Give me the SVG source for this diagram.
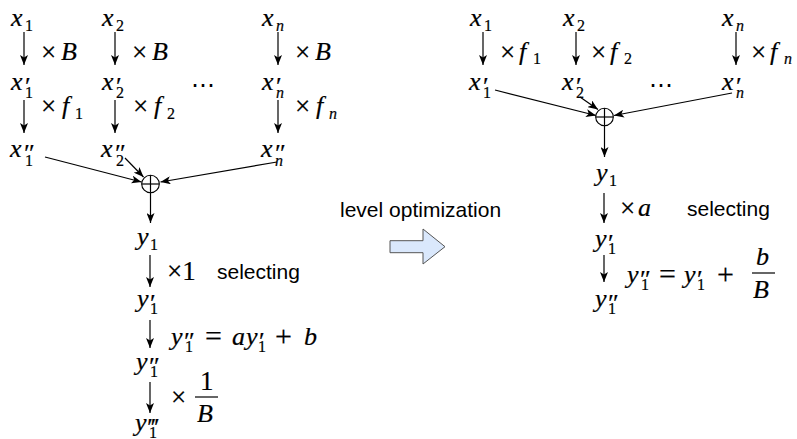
<svg xmlns="http://www.w3.org/2000/svg" width="797" height="439" viewBox="0 0 797 439">
  <style>
    .v { font-family: "Liberation Serif", "DejaVu Serif", "Times New Roman", serif; font-style: italic; font-size: 26px; fill: #000; stroke: #000; stroke-width: 0.2; }
    .r { font-style: normal; font-size: 27px; }
    .s { font-style: normal; font-size: 16px; }
    .si { font-style: italic; font-size: 16px; }
    .p { font-style: normal; font-size: 26px; }
    .op { font-style: normal; font-size: 30px; }
    .dots { font-family: "DejaVu Serif", serif; font-size: 24px; fill: #000; }
    .t { font-family: "Liberation Sans", Arial, sans-serif; font-size: 21px; fill: #000; }
    .ln { stroke: #000; stroke-width: 1.2; fill: none; }
    .arr { stroke: #000; stroke-width: 1.2; fill: none; marker-end: url(#head); }
    .sum { stroke: #000; stroke-width: 1.1; fill: #fff; }
    .big { fill: #dae8fc; stroke: #555; stroke-width: 1; }
  </style>
  <defs>
    <marker id="head" markerUnits="userSpaceOnUse" markerWidth="10" markerHeight="8" viewBox="0 0 10 8" refX="10" refY="4" orient="auto">
      <path d="M0,0 L10,4 L0,8 L2.5,4 z" fill="#000"/>
    </marker>
  </defs>

  <rect width="797" height="439" fill="#fff"/>

  <!-- connectors -->
  <g id="connectors">
    <!-- left: scaling chains -->
    <line class="arr" x1="24" y1="32" x2="24" y2="65"/>
    <line class="arr" x1="24" y1="100" x2="24" y2="133"/>
    <line class="arr" x1="115" y1="32" x2="115" y2="65"/>
    <line class="arr" x1="115" y1="100" x2="115" y2="133"/>
    <line class="arr" x1="278" y1="32" x2="278" y2="65"/>
    <line class="arr" x1="278" y1="100" x2="278" y2="133"/>
    <!-- left: into the sum -->
    <line class="arr" x1="45" y1="157" x2="141.5" y2="182"/>
    <line class="arr" x1="125" y1="158" x2="143.5" y2="177"/>
    <line class="arr" x1="277" y1="162" x2="160.5" y2="182"/>
    <!-- left: output chain -->
    <line class="arr" x1="150.5" y1="193" x2="150.5" y2="223"/>
    <line class="arr" x1="150" y1="255" x2="150" y2="287"/>
    <line class="arr" x1="150" y1="320" x2="150" y2="348"/>
    <line class="arr" x1="150" y1="382" x2="150" y2="413"/>

    <!-- right: scaling -->
    <line class="arr" x1="483" y1="32" x2="483" y2="65"/>
    <line class="arr" x1="576" y1="32" x2="576" y2="65"/>
    <line class="arr" x1="736" y1="32" x2="736" y2="65"/>
    <!-- right: into the sum -->
    <line class="arr" x1="495" y1="90" x2="596" y2="115.5"/>
    <line class="arr" x1="580" y1="97" x2="598" y2="109.5"/>
    <line class="arr" x1="732" y1="93" x2="614" y2="115.5"/>
    <!-- right: output chain -->
    <line class="arr" x1="604.5" y1="126" x2="604.5" y2="157"/>
    <line class="arr" x1="604" y1="193" x2="604" y2="223"/>
    <line class="arr" x1="604" y1="255" x2="604" y2="282"/>
  </g>

  <!-- adders -->
  <g id="sum-left">
    <circle class="sum" cx="150.5" cy="184" r="8.8"/>
    <line class="ln" x1="141.7" y1="184" x2="159.3" y2="184"/>
    <line class="ln" x1="150.5" y1="175.2" x2="150.5" y2="192.8"/>
  </g>
  <g id="sum-right">
    <circle class="sum" cx="604.5" cy="117" r="8.8"/>
    <line class="ln" x1="595.7" y1="117" x2="613.3" y2="117"/>
    <line class="ln" x1="604.5" y1="108.2" x2="604.5" y2="125.8"/>
  </g>

  <!-- left inputs -->
  <g id="L-x1"><text class="v" x="11" y="26">x<tspan class="s" x="25" y="31">1</tspan></text></g>
  <g id="L-x2"><text class="v" x="102" y="26">x<tspan class="s" x="116" y="31">2</tspan></text></g>
  <g id="L-xn"><text class="v" x="262" y="26">x<tspan class="si" x="276" y="31">n</tspan></text></g>
  <g id="L-x1p"><text class="v" x="11" y="90">x<tspan class="p" x="25" y="95">′</tspan><tspan class="s" x="25" y="98">1</tspan></text></g>
  <g id="L-x2p"><text class="v" x="102" y="90">x<tspan class="p" x="116" y="95">′</tspan><tspan class="s" x="116" y="98">2</tspan></text></g>
  <g id="L-xnp"><text class="v" x="262" y="90">x<tspan class="p" x="276" y="95">′</tspan><tspan class="si" x="276" y="98">n</tspan></text></g>
  <g id="L-x1pp"><text class="v" x="10" y="157">x<tspan class="p" x="24" y="162">″</tspan><tspan class="s" x="25" y="166">1</tspan></text></g>
  <g id="L-x2pp"><text class="v" x="101" y="157">x<tspan class="p" x="115" y="162">″</tspan><tspan class="s" x="116" y="166">2</tspan></text></g>
  <g id="L-xnpp"><text class="v" x="261" y="157">x<tspan class="p" x="275" y="162">″</tspan><tspan class="si" x="275" y="166">n</tspan></text></g>
  <g id="L-dots"><text class="dots" x="191" y="93">⋯</text></g>

  <!-- left output chain -->
  <g id="L-y1"><text class="v" x="137" y="245">y<tspan class="s" x="150" y="250">1</tspan></text></g>
  <g id="L-y1p"><text class="v" x="137" y="307">y<tspan class="p" x="150" y="312">′</tspan><tspan class="s" x="150" y="314">1</tspan></text></g>
  <g id="L-y1pp"><text class="v" x="136" y="370">y<tspan class="p" x="149" y="375">″</tspan><tspan class="s" x="150" y="377">1</tspan></text></g>
  <g id="L-y1ppp"><text class="v" x="135" y="431">y<tspan class="p" x="148" y="436">‴</tspan><tspan class="s" x="149" y="438">1</tspan></text></g>

  <!-- right inputs -->
  <g id="R-x1"><text class="v" x="470" y="26">x<tspan class="s" x="484" y="31">1</tspan></text></g>
  <g id="R-x2"><text class="v" x="563" y="26">x<tspan class="s" x="577" y="31">2</tspan></text></g>
  <g id="R-xn"><text class="v" x="722" y="26">x<tspan class="si" x="736" y="31">n</tspan></text></g>
  <g id="R-x1p"><text class="v" x="469" y="90">x<tspan class="p" x="483" y="95">′</tspan><tspan class="s" x="483" y="98">1</tspan></text></g>
  <g id="R-x2p"><text class="v" x="562" y="90">x<tspan class="p" x="576" y="95">′</tspan><tspan class="s" x="576" y="98">2</tspan></text></g>
  <g id="R-xnp"><text class="v" x="722" y="90">x<tspan class="p" x="736" y="95">′</tspan><tspan class="si" x="736" y="98">n</tspan></text></g>
  <g id="R-dots"><text class="dots" x="649" y="93">⋯</text></g>

  <!-- right output chain -->
  <g id="R-y1"><text class="v" x="596" y="181">y<tspan class="s" x="609" y="186">1</tspan></text></g>
  <g id="R-y1p"><text class="v" x="595" y="247">y<tspan class="p" x="608" y="252">′</tspan><tspan class="s" x="608" y="254">1</tspan></text></g>
  <g id="R-y1pp"><text class="v" x="595" y="307">y<tspan class="p" x="608" y="312">″</tspan><tspan class="s" x="608" y="314">1</tspan></text></g>

  <!-- edge labels -->
  <g id="labels">
    <text class="v" x="41" y="61"><tspan class="r">×</tspan><tspan x="61" y="60">B</tspan></text>
    <text class="v" x="132" y="61"><tspan class="r">×</tspan><tspan x="152" y="60">B</tspan></text>
    <text class="v" x="295" y="61"><tspan class="r">×</tspan><tspan x="315" y="60">B</tspan></text>
    <text class="v" x="41" y="115"><tspan class="r">×</tspan><tspan x="62" y="114">f</tspan><tspan class="s" x="75" y="119">1</tspan></text>
    <text class="v" x="133" y="115"><tspan class="r">×</tspan><tspan x="154" y="114">f</tspan><tspan class="s" x="167" y="119">2</tspan></text>
    <text class="v" x="295" y="115"><tspan class="r">×</tspan><tspan x="316" y="114">f</tspan><tspan class="si" x="329" y="119">n</tspan></text>

    <text class="v" x="167" y="280"><tspan class="r">×1</tspan></text>
    <text class="t" x="217" y="279">selecting</text>
    <text class="v" x="171" y="345">y<tspan class="p" x="184" y="350">″</tspan><tspan class="s" x="185" y="352">1</tspan><tspan class="op" x="205" y="346">=</tspan><tspan x="232" y="345">a</tspan><tspan x="246">y</tspan><tspan class="p" x="259" y="350">′</tspan><tspan class="s" x="258" y="352">1</tspan><tspan class="op" x="275" y="346">+</tspan><tspan x="304" y="345">b</tspan></text>
    <text class="v" x="171" y="406"><tspan class="r">×</tspan></text>
    <text class="v" x="200" y="390"><tspan class="r">1</tspan></text>
    <line class="ln" x1="195" y1="397" x2="218" y2="397"/>
    <text class="v" x="197" y="422">B</text>

    <text class="v" x="500" y="61"><tspan class="r">×</tspan><tspan x="519" y="60">f</tspan><tspan class="s" x="533" y="64">1</tspan></text>
    <text class="v" x="591" y="61"><tspan class="r">×</tspan><tspan x="610" y="60">f</tspan><tspan class="s" x="624" y="64">2</tspan></text>
    <text class="v" x="751" y="61"><tspan class="r">×</tspan><tspan x="770" y="60">f</tspan><tspan class="si" x="784" y="64">n</tspan></text>

    <text class="v" x="620" y="217"><tspan class="r">×</tspan><tspan x="638" y="216">a</tspan></text>
    <text class="t" x="687" y="216">selecting</text>
    <text class="v" x="627" y="283">y<tspan class="p" x="640" y="288">″</tspan><tspan class="s" x="641" y="290">1</tspan><tspan class="op" x="659" y="284">=</tspan><tspan x="684" y="283">y</tspan><tspan class="p" x="697" y="288">′</tspan><tspan class="s" x="697" y="290">1</tspan><tspan class="op" x="717" y="284">+</tspan></text>
    <text class="v" x="756" y="265">b</text>
    <line class="ln" x1="752" y1="273" x2="775" y2="273"/>
    <text class="v" x="753" y="298">B</text>
  </g>

  <!-- transformation step -->
  <g id="step">
    <text class="t" x="340" y="217">level optimization</text>
    <polygon class="big" points="390,240.7 423,240.7 423,229 445,246.7 423,264 423,252.7 390,252.7"/>
  </g>
</svg>
